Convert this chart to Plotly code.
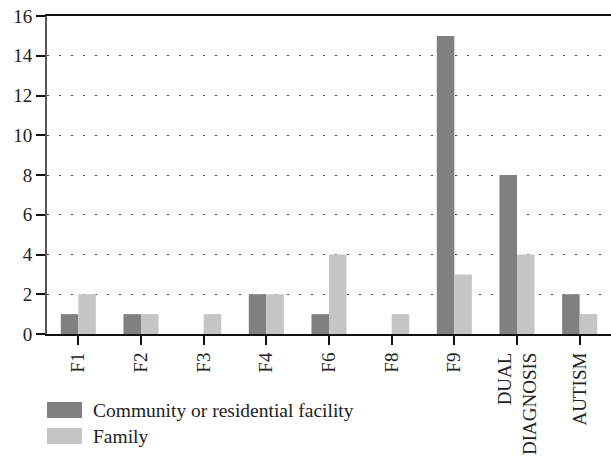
import plotly.graph_objects as go

categories = ["F1", "F2", "F3", "F4", "F6", "F8", "F9", "DUAL<br>DIAGNOSIS", "AUTISM"]
community = [1, 1, 0, 2, 1, 0, 15, 8, 2]
family = [2, 1, 1, 2, 4, 1, 3, 4, 1]
series_names = ["Community or residential facility", "Family"]
y_ticks = [0, 2, 4, 6, 8, 10, 12, 14, 16]

dark = "#808080"
light = "#c4c5c4"
font_family = "Liberation Serif, serif"

fig = go.Figure()
fig.add_trace(go.Bar(x=categories, y=community, name=series_names[0],
                     marker=dict(color=dark, line=dict(width=0)), showlegend=False))
fig.add_trace(go.Bar(x=categories, y=family, name=series_names[1],
                     marker=dict(color=light, line=dict(width=0)), showlegend=False))

fig.update_layout(
    width=611, height=464,
    margin=dict(l=47, r=0, t=16, b=130, autoexpand=False),
    paper_bgcolor="white", plot_bgcolor="white",
    barmode="group", bargap=0.44, bargroupgap=0,
    font=dict(family=font_family, size=19, color="#222"),
)
fig.update_xaxes(
    automargin=False,
    showline=True, mirror=True, linecolor="#111", linewidth=2,
    ticks="outside", ticklen=9, tickwidth=2, tickcolor="#111",
    tickangle=-90, showgrid=False, ticklabeloverflow="allow",
    tickfont=dict(family=font_family, size=19, color="#222"),
)
fig.update_yaxes(
    automargin=False,
    range=[0, 16], tickvals=y_ticks, ticklabeloverflow="allow",
    showline=True, linecolor="#555", linewidth=2,
    ticks="outside", ticklen=9, tickwidth=2, tickcolor="#111",
    showgrid=True, gridcolor="#444", gridwidth=1.3, griddash="2px,10px",
    zeroline=False,
    tickfont=dict(family=font_family, size=19, color="#222"),
)

# custom legend (window y positions of the rows' centres)
legend_rows = [(series_names[0], dark, 410), (series_names[1], light, 436)]
for name, col, yc in legend_rows:
    y0 = 1 - (yc - 8 - 16) / 318
    y1 = 1 - (yc + 8 - 16) / 318
    fig.add_shape(type="rect", xref="paper", yref="paper",
                  x0=0, x1=35 / 564, y0=y1, y1=y0,
                  fillcolor=col, line=dict(width=0))
    fig.add_annotation(xref="paper", yref="paper", x=44 / 564, y=1 - (yc - 16) / 318,
                       text=name, showarrow=False, xanchor="left", yanchor="middle",
                       font=dict(family=font_family, size=19.5, color="#222"))

# remove the default page margin so the figure sits at the window's corner
fig.write_html("out.html",
               config={"displayModeBar": False},
               post_script="document.body.style.margin='0';document.body.style.overflow='hidden';")
